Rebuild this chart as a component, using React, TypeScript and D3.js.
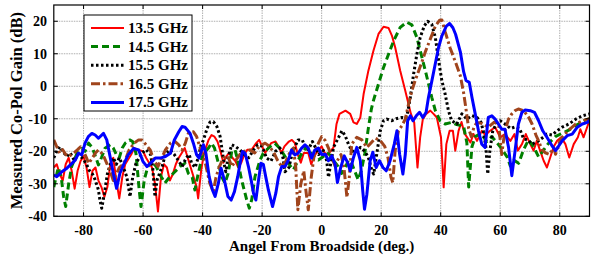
import * as d3 from "d3";

const ANGLE_TICKS = [-80, -60, -40, -20, 0, 20, 40, 60, 80];
const GAIN_TICKS = [-40, -30, -20, -10, 0, 10, 20];
const FREQ_LABELS = ["13.5 GHz", "14.5 GHz", "15.5 GHz", "16.5 GHz", "17.5 GHz"];

// [angle (deg), gain (dB)]
const GAIN_13_5: [number, number][] = [
  [-90, -25], [-89, -24], [-88, -27], [-87, -29], [-86, -24], [-85, -22], [-84, -26], [-83, -31.5],
  [-82, -26], [-81, -23], [-80, -21.5], [-79, -25], [-78, -31], [-77, -26], [-76, -25], [-75, -29],
  [-74, -31], [-73, -34], [-72, -31], [-71, -24], [-70, -22], [-69, -29], [-68, -34.5], [-67, -28],
  [-66, -24], [-64, -21], [-63, -19], [-62, -19.5], [-60, -20], [-59, -22], [-58, -23.5], [-57, -25],
  [-56, -30], [-55, -38.5], [-54, -28], [-53, -24], [-52, -25], [-51, -29], [-50, -27], [-49, -24],
  [-48, -22], [-47, -20.5], [-46, -19], [-45, -22], [-44, -25], [-43, -28], [-42, -31], [-41.5, -34.5],
  [-40.5, -26], [-39.5, -20.5], [-38, -16.5], [-37, -15], [-36, -15.5], [-35, -17], [-34, -20],
  [-33, -23.5], [-32, -21.5], [-31, -20.5], [-30, -22], [-29, -23], [-28, -25], [-27, -23.5], [-26, -21],
  [-25, -19.5], [-23.5, -19.5], [-22, -17.5], [-21, -16.5], [-20, -18.5], [-19, -20.5], [-18, -19],
  [-17, -17.5], [-15.5, -17], [-14.5, -18.5], [-13.5, -20.5], [-12.5, -18.5], [-11, -17], [-10, -16.5],
  [-9, -17.5], [-8, -21], [-7, -23.5], [-6, -20.5], [-4.5, -20.5], [-3.5, -24], [-2.5, -21.5], [-1, -19.5],
  [0, -18.5], [1, -20.5], [2, -21], [3, -20], [4, -18.8], [5, -11.6], [6, -8.5], [8, -7.5], [9.6, -8.5],
  [10.7, -11.1], [11.8, -11.6], [13, -9.6], [14.1, -2.4], [15.7, 4.8], [17.4, 10.9], [19.1, 16.1],
  [20.8, 18.3], [22.5, 17.9], [23.6, 15.6], [24.7, 12], [26.4, 4.8], [28.1, -1.4], [29.2, -5.5], [30, -8.5],
  [31.1, -11.1], [32.2, -25], [33.1, -15.7], [34, -10.1], [35.1, -8.5], [36.5, -7.5], [37.6, -8.5],
  [38.7, -9.6], [40.1, -15.7], [41, -31.1], [41.9, -17.8], [43, -13.7], [44.1, -13.7], [44.9, -19.8],
  [46, -13.7], [47, -11], [48, -14.5], [50, -17.3], [51, -14.7], [52.2, -16.8], [53.8, -13.7], [55, -15],
  [56.6, -13.7], [58.3, -12.6], [60, -15.7], [61.6, -14.7], [63.4, -16.8], [64.8, -14.7], [65.9, -19.8],
  [67.3, -17.8], [68.6, -14.7], [70.1, -17.8], [71.2, -19.8], [72.3, -16.8], [73.4, -19.8], [74.6, -22.9],
  [75.7, -25], [76.8, -21.9], [78, -18.5], [79.1, -16.8], [80.5, -15.7], [81.9, -17.8], [83.2, -21.9],
  [84.7, -17.8], [86.1, -15.7], [86.9, -13.2], [88, -15.7], [89.2, -12.6], [90, -10.5],
];

const GAIN_14_5: [number, number][] = [
  [-90, -31], [-89, -27], [-88.5, -25], [-87.5, -28], [-86.7, -34], [-86, -37], [-85, -30], [-84, -24.7],
  [-82.2, -20.6], [-80.5, -19.1], [-79.5, -20], [-78.3, -17.5], [-77, -19], [-76, -21.6], [-75, -24.2],
  [-74, -22], [-72.8, -19.1], [-71, -18], [-70, -19], [-69, -21], [-68, -22], [-67, -19], [-66, -17.5],
  [-64.5, -16.5], [-63.5, -17], [-62.4, -20.6], [-61.3, -31.9], [-60.7, -37], [-59.6, -28.8],
  [-58.4, -24.7], [-57, -23], [-55.6, -24.7], [-53.9, -27.8], [-52.7, -29.8], [-51, -27.8], [-49.3, -26.3],
  [-47.6, -24.7], [-45.9, -23.7], [-44.8, -26.8], [-43.5, -28], [-42.6, -31.9], [-41.5, -27], [-40, -21],
  [-38.1, -19.1], [-37, -17.5], [-36, -19], [-34.7, -23.7], [-33.6, -27.8], [-32.5, -29.8], [-31.4, -26.8],
  [-30.2, -20], [-29.1, -19.6], [-28.5, -21.6], [-26.9, -28.8], [-25.2, -34.9], [-24.3, -37.5],
  [-23.5, -34.9], [-22.4, -27.8], [-20.7, -22.7], [-19.6, -20.6], [-17.4, -18.6], [-15.7, -17.6],
  [-14, -19.1], [-12.3, -21.6], [-11.2, -23.7], [-9.5, -25.7], [-8.4, -23.7], [-6.7, -20.6], [-5, -18.6],
  [-2.8, -21.6], [-1.1, -22.7], [0.6, -21.6], [2.3, -20.6], [3.9, -22.7], [5.6, -24.7], [6.7, -26.8],
  [7.9, -25.2], [9, -22.7], [10.1, -23.7], [11.2, -26.3], [12.3, -28.8], [13.4, -25.7], [14.5, -20.6],
  [15.6, -13.5], [16.7, -7], [17.4, -4.4], [19.1, 0.7], [20.8, 5.8], [22.5, 9.9], [24.2, 14], [26.4, 18.1],
  [28.6, 19.7], [30.3, 18.9], [32, 15], [33.7, 8.9], [35.4, 2.7], [37, -3.4], [38.2, -7.5], [39.8, -10.6],
  [41.5, -11.6], [43.7, -11.1], [45.4, -11.8], [47.7, -12.3], [48.8, -17.4], [49.4, -31], [50.5, -18.6],
  [51.6, -15.5], [53.5, -14.5], [55.5, -17], [57.2, -15.5], [60, -18.6], [62.3, -21.7], [63.4, -24.5],
  [64.5, -22.7], [66.2, -23.7], [67.8, -19.6], [69.5, -16.5], [71.2, -18.6], [72.9, -21.7], [74.6, -19.6],
  [76.2, -17.6], [78.5, -15.5], [80.7, -14.5], [83, -13.5], [85.5, -12], [88.6, -10.4], [90, -10],
];

const GAIN_15_5: [number, number][] = [
  [-90, -22], [-89, -20], [-88, -18.6], [-87, -20], [-85.6, -21.6], [-84.5, -20.5], [-83, -23], [-82, -21],
  [-80.5, -22], [-79, -24], [-78, -26], [-77, -27], [-76.1, -28.8], [-75, -31.9], [-74.5, -35],
  [-73.9, -37.5], [-73, -33], [-72, -27], [-71, -24], [-70, -22], [-69, -24], [-68, -22], [-67, -24],
  [-65.5, -27.8], [-64.9, -30.9], [-64.4, -34], [-63.5, -28], [-62.4, -23.7], [-60.4, -20.6], [-59, -19.5],
  [-57.5, -21], [-56.8, -24.7], [-56, -34], [-55.3, -28.8], [-53.6, -24.7], [-52.4, -20.6], [-50.8, -19.6],
  [-49.5, -21], [-48, -23], [-46.9, -24.7], [-45.5, -22], [-44.5, -21], [-43.7, -23.7], [-42.5, -25],
  [-41.5, -22], [-40.5, -18], [-39.7, -16.5], [-38.5, -13], [-37.5, -11], [-36.4, -10.9], [-35.2, -12.4],
  [-34.1, -15.5], [-33.3, -20.6], [-32.6, -24.7], [-32.2, -26.3], [-31.4, -21.6], [-30.2, -18], [-29, -18.5],
  [-27.4, -19.6], [-26, -21], [-24.5, -22], [-22.9, -19.6], [-21.5, -18], [-20, -18.5], [-18.5, -22.1],
  [-17, -23], [-15.5, -20], [-14, -19], [-13, -22], [-12.3, -26.3], [-11, -25], [-10, -21], [-9, -18.6],
  [-7.9, -16.5], [-6.5, -16.5], [-5.5, -19], [-4.5, -19.5], [-3.1, -17], [-2, -19], [-1, -21], [0, -20],
  [0.6, -19.8], [1.7, -22.9], [2.3, -28], [3, -24], [4, -18.8], [5.7, -15.7], [6.8, -13.7], [7.9, -15.2],
  [9, -17.8], [10.1, -19.8], [11.5, -20.5], [13, -18.8], [14.5, -20], [15.7, -21.9], [16.9, -26],
  [17.5, -27], [18.5, -20.9], [19.7, -13.7], [20.8, -10.6], [21.9, -10.1], [23.6, -10.6], [25, -10],
  [27, -9.6], [28.3, -9.8], [28.9, -8], [29.8, -3.4], [30.9, 3.8], [32, 9.9], [33.1, 15], [34.5, 18.6],
  [35.6, 20], [37, 19.1], [38.2, 15], [39.3, 7.9], [40.4, 1.7], [41.5, -2.4], [42.6, -7.5], [43.7, -10.6],
  [45.4, -11.6], [47.1, -8.5], [48.8, -10.1], [50.5, -9], [52.2, -9.6], [53.5, -11], [54.3, -13.7],
  [55.2, -18.8], [55.8, -27], [56.5, -20], [57.5, -13.7], [59, -11], [60, -10.6], [61.6, -11.6],
  [63.5, -13], [65, -12.5], [66.5, -13], [67.9, -16.2], [69.3, -16.5], [70.7, -17.8], [72.5, -17],
  [74, -16], [75.7, -14.7], [77.5, -15], [79.1, -13.7], [80.8, -12.6], [83.1, -11.6], [85.4, -10.1],
  [87.6, -9.1], [90, -8.5],
];

const GAIN_16_5: [number, number][] = [
  [-90, -16.5], [-89, -18.6], [-88, -20.6], [-87, -19.5], [-86, -21], [-85, -21.6], [-83.4, -20.6],
  [-82, -19.5], [-81, -18.6], [-80, -20], [-79, -22], [-78.3, -23.7], [-77, -22], [-76, -20.5], [-75, -19.6],
  [-74, -20.5], [-73, -22], [-72.2, -23.7], [-71, -26.3], [-70, -29], [-69, -27], [-68, -25], [-66.4, -23.7],
  [-64.7, -19.6], [-63, -17.5], [-61.5, -16.5], [-60.4, -16.5], [-59, -18], [-57.6, -19.6], [-56.5, -22.5],
  [-55, -24.7], [-54, -22.5], [-52.5, -19.6], [-50.8, -17.5], [-49.5, -16.8], [-48, -18], [-46.9, -19.6],
  [-45.8, -17.5], [-44.8, -14.5], [-43.1, -14], [-42, -15.5], [-41, -18.5], [-40, -21.5], [-39, -24],
  [-37.6, -29.8], [-36.4, -32.4], [-35.5, -28], [-34.5, -25], [-33, -22], [-31.5, -21.5], [-30.2, -24.7],
  [-29, -23], [-27.5, -21], [-26, -20], [-24, -19.6], [-22.5, -20.5], [-21, -18.5], [-19, -17.5],
  [-17.5, -18.5], [-16, -20.5], [-15, -22.5], [-13.4, -24.7], [-12, -23], [-10.5, -20], [-9.5, -19],
  [-8.7, -25], [-8, -38], [-7, -30], [-6, -26], [-5.3, -32], [-4.5, -38], [-3.5, -28], [-2.5, -21],
  [-1.1, -17.5], [0, -15.5], [1.2, -16.7], [2.3, -19], [3.4, -21.9], [4.5, -24.5], [5.5, -22.5], [6.5, -21],
  [7.5, -25], [8.5, -34.2], [9.3, -28], [10.1, -17.8], [11.8, -15.7], [13.5, -16.5], [15.2, -18.8],
  [16.5, -17.5], [18, -16], [19.7, -16.7], [21.2, -18.5], [22.3, -22], [23.3, -28], [23.9, -29.6],
  [24.7, -19.8], [25.8, -13.7], [27, -12.1], [28.1, -10.1], [29.2, -5.5], [30.3, -1.4], [31.4, 1.7],
  [32.5, 4.5], [33.7, 7.5], [34.8, 10.5], [36.5, 14.5], [38.2, 18.5], [39.6, 20.3], [40.4, 20.4],
  [41.5, 16.8], [43.2, 11.7], [44.9, 7.6], [46.6, 3.2], [47.7, -2], [48.5, -7], [49.4, -13], [50.3, -15.5],
  [51.2, -12.5], [52.2, -11.1], [54, -11.5], [56, -12.6], [58, -11], [59.5, -12], [60.5, -21], [61.5, -14],
  [62.8, -10.1], [63.9, -8.5], [65, -7.5], [66.1, -7], [67.9, -7.5], [69.6, -9.6], [70.7, -11.6], [72, -15],
  [72.9, -16.8], [74, -19.5], [75.2, -20.5], [76.5, -21], [78, -19], [78.6, -20.9], [80, -17], [80.8, -15.7],
  [83, -13.5], [85.4, -11.6], [87.6, -10.6], [90, -10],
];

const GAIN_17_5: [number, number][] = [
  [-90, -27.3], [-89, -27.8], [-87.3, -26.3], [-85.6, -25.2], [-83.9, -23.7], [-82.8, -22.7], [-81.7, -20.6],
  [-80.6, -21.1], [-79.5, -17.5], [-78.4, -15.5], [-77.2, -14.5], [-76.1, -15], [-75, -16], [-73.3, -14.5],
  [-72.2, -16.5], [-71.1, -21.6], [-70, -26.8], [-68.9, -31.4], [-67.8, -26.8], [-66.1, -23.2], [-65, -21.1],
  [-63.2, -19.1], [-61.5, -19.6], [-60, -23.2], [-58.7, -24.7], [-57, -23.2], [-55.9, -22.1], [-54.2, -22.1],
  [-52.5, -21.6], [-50.8, -20.6], [-49.5, -16.5], [-48, -14], [-46.9, -12.4], [-45.9, -12.6], [-44.2, -14.5],
  [-43.1, -17.5], [-42, -21.1], [-41.2, -22.1], [-40.3, -19.6], [-39.7, -18], [-38.9, -20.6], [-37.8, -27.8],
  [-36.7, -31.9], [-35.8, -33.9], [-34.7, -29.8], [-33.8, -25.2], [-32.7, -28.8], [-31.5, -33.9], [-30.4, -35],
  [-29.3, -32.4], [-28.2, -27.8], [-27.4, -23.7], [-26.6, -20.1], [-25.7, -20.6], [-24.6, -24.7],
  [-23.7, -28.8], [-22.9, -32.9], [-22.1, -35], [-21.2, -28.8], [-20.4, -23.7], [-19.6, -24], [-18.8, -27.8],
  [-17.9, -31.9], [-16.5, -37], [-15.4, -32.9], [-14.5, -27.8], [-13.4, -24.7], [-12.3, -24.7],
  [-11.2, -22.7], [-10.1, -19.6], [-9, -21.1], [-7.9, -20.6], [-6.8, -19.1], [-5.6, -18], [-4.5, -19],
  [-3.4, -22.1], [-2.3, -19.6], [-1.1, -19], [0, -21], [1.2, -20.9], [2.3, -22.9], [3.4, -21.4], [4.5, -23.9],
  [5.3, -29.6], [6.4, -25], [7.6, -21.4], [8.7, -23.4], [9.6, -26], [10.7, -21.9], [11.8, -18.8], [13, -22.9],
  [13.8, -32.1], [14.4, -37.8], [15.2, -33.2], [16.3, -22.9], [17.2, -20.3], [18.3, -25], [19.4, -22.9],
  [20.6, -25], [21.7, -26], [23, -22.9], [24.4, -17.8], [25.3, -13.7], [26.2, -20.9], [27.3, -27], [28.1, -21],
  [28.9, -10.6], [29.8, -9.1], [30.7, -10.6], [31.8, -9.1], [32.9, -8], [34, -9.6], [35.1, -8], [35.9, -3.4],
  [37, 1.5], [38.2, 7], [39.3, 12], [40.4, 15.5], [41.9, 18.5], [43, 19.3], [44.1, 18], [45, 16],
  [46.6, 10.6], [47.7, 4.5], [48.5, 1.8], [49.6, 1.2], [50.5, -3.4], [51.6, -8.5], [52.7, -13.7],
  [53.8, -17.8], [54.9, -18.8], [56, -9.6], [57.2, -9.1], [58.3, -10.1], [59.4, -11.6], [60.5, -13.2],
  [61.6, -13.2], [62.8, -18.8], [63.9, -27.5], [65, -19.8], [66.1, -11.6], [67.3, -8], [68.4, -7.3],
  [70.1, -7.5], [71.5, -8], [72.9, -10.6], [74.3, -13.7], [75.7, -15.7], [77.4, -18.3], [78.6, -19.8],
  [79.7, -18.3], [80.8, -16.8], [82.5, -15.2], [84.2, -14.7], [85.9, -12.6], [87.6, -11.6], [89.3, -11.1],
  [90, -10.5],
];

const SERIES = [GAIN_13_5, GAIN_14_5, GAIN_15_5, GAIN_16_5, GAIN_17_5];
const STYLES = [
  { color: "#ff0000", width: 2, dash: "none" },
  { color: "#008000", width: 3, dash: "7,4" },
  { color: "#000000", width: 3, dash: "2.5,2.5" },
  { color: "#a0441c", width: 3, dash: "9,3,2.5,3" },
  { color: "#0000ff", width: 3, dash: "none" },
];

const W = 591;
const H = 255;
const LEFT = 53.8;
const RIGHT = 589.5;
const TOP = 5;
const BOTTOM = 216.3;
const FONT = "'Liberation Serif', 'Times New Roman', serif";

export default function App() {
  const x = d3.scaleLinear().domain([-90, 90]).range([LEFT, RIGHT]);
  const y = d3.scaleLinear().domain([-40, 25]).range([BOTTOM, TOP]);
  const line = d3
    .line<[number, number]>()
    .x((d) => x(d[0]))
    .y((d) => y(d[1]));

  return (
    <div style={{ position: "absolute", left: 0, top: 0 }}>
      <svg width={W} height={H} style={{ display: "block", background: "#fff" }}>
        <defs>
          <clipPath id="plot">
            <rect x={LEFT} y={TOP} width={RIGHT - LEFT} height={BOTTOM - TOP} />
          </clipPath>
        </defs>

        {/* grid */}
        <g stroke="#9a9a9a" strokeWidth={0.8} strokeDasharray="1.5,1">
          {ANGLE_TICKS.map((t) => (
            <line key={"gx" + t} x1={x(t)} x2={x(t)} y1={TOP} y2={BOTTOM} />
          ))}
          {GAIN_TICKS.map((t) => (
            <line key={"gy" + t} x1={LEFT} x2={RIGHT} y1={y(t)} y2={y(t)} />
          ))}
        </g>

        {/* measured patterns */}
        <g clipPath="url(#plot)" fill="none" strokeLinejoin="round">
          {SERIES.map((s, i) => (
            <path
              key={FREQ_LABELS[i]}
              d={line(s) || ""}
              stroke={STYLES[i].color}
              strokeWidth={STYLES[i].width}
              strokeDasharray={STYLES[i].dash}
            />
          ))}
        </g>

        {/* frame and inward ticks */}
        <rect x={LEFT} y={TOP} width={RIGHT - LEFT} height={BOTTOM - TOP} fill="none" stroke="#000" strokeWidth={1.2} />
        <g stroke="#000" strokeWidth={1}>
          {ANGLE_TICKS.map((t) => (
            <g key={"tx" + t}>
              <line x1={x(t)} x2={x(t)} y1={BOTTOM} y2={BOTTOM - 4} />
              <line x1={x(t)} x2={x(t)} y1={TOP} y2={TOP + 4} />
            </g>
          ))}
          {GAIN_TICKS.map((t) => (
            <g key={"ty" + t}>
              <line x1={LEFT} x2={LEFT + 4} y1={y(t)} y2={y(t)} />
              <line x1={RIGHT} x2={RIGHT - 4} y1={y(t)} y2={y(t)} />
            </g>
          ))}
        </g>

        {/* tick labels */}
        <g fontFamily={FONT} fontWeight="bold" fontSize={14} fill="#000">
          {ANGLE_TICKS.map((t) => (
            <text key={"lx" + t} x={x(t)} y={235} textAnchor="middle">
              {t}
            </text>
          ))}
          {GAIN_TICKS.map((t) => (
            <text key={"ly" + t} x={47} y={y(t) + 5} textAnchor="end">
              {t}
            </text>
          ))}
        </g>

        {/* axis titles */}
        <text x={x(0)} y={250.5} textAnchor="middle" fontFamily={FONT} fontWeight="bold" fontSize={15}>
          Angel From Broadside (deg.)
        </text>
        <text
          transform={`translate(22,${(TOP + BOTTOM) / 2}) rotate(-90)`}
          textAnchor="middle"
          fontFamily={FONT}
          fontWeight="bold"
          fontSize={16.5}
        >
          Measured Co-Pol Gain (dB)
        </text>

        {/* legend */}
        <g>
          <rect x={84} y={15} width={108} height={96} fill="#fff" stroke="#000" strokeWidth={1} />
          {FREQ_LABELS.map((label, i) => {
            const ly = 28 + i * 18.6;
            return (
              <g key={label}>
                <line
                  x1={91}
                  x2={124}
                  y1={ly}
                  y2={ly}
                  stroke={STYLES[i].color}
                  strokeWidth={STYLES[i].width}
                  strokeDasharray={STYLES[i].dash}
                />
                <text x={128} y={ly + 5} fontFamily={FONT} fontWeight="bold" fontSize={15}>
                  {label}
                </text>
              </g>
            );
          })}
        </g>
      </svg>
    </div>
  );
}
